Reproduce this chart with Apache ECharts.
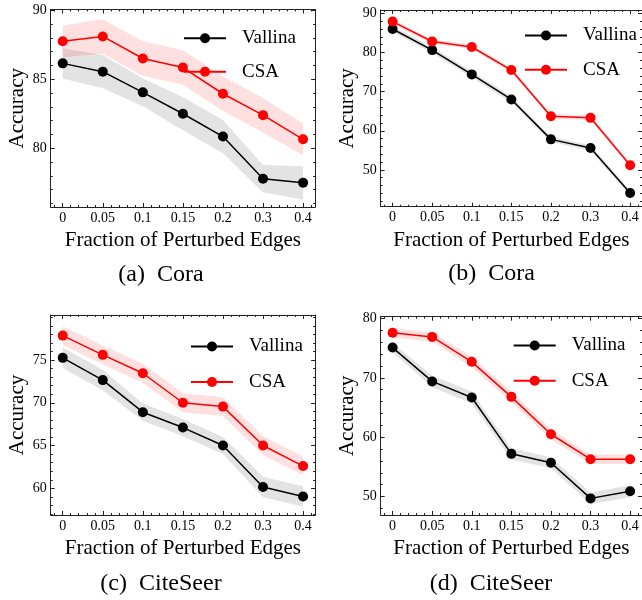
<!DOCTYPE html>
<html><head><meta charset="utf-8">
<script src="https://cdn.jsdelivr.net/npm/echarts@6/dist/echarts.min.js"></script>
<style>html,body{margin:0;padding:0;background:#fff}#c{width:642px;height:600px}</style>
</head><body><div id="c"></div>
<script>
// ---- data ----
const xLabels = ['0', '0.05', '0.1', '0.15', '0.2', '0.3', '0.4'];

const coraA_vallina     = [86.15, 85.55, 84.05, 82.5, 80.85, 77.8, 77.5];
const coraA_vallina_std = [1.1, 1.2, 1.0, 1.2, 1.2, 1.0, 1.2];
const coraA_csa         = [87.75, 88.1, 86.5, 85.85, 83.95, 82.4, 80.65];
const coraA_csa_std     = [1.15, 1.25, 1.25, 1.25, 1.25, 1.25, 1.15];

const coraB_vallina     = [86.0, 80.6, 74.4, 68.0, 57.8, 55.6, 44.1];
const coraB_vallina_std = [0.7, 0.8, 0.8, 0.8, 0.7, 0.7, 0.7];
const coraB_csa         = [87.9, 82.8, 81.4, 75.5, 63.7, 63.3, 51.2];
const coraB_csa_std     = [0.6, 0.6, 0.6, 0.6, 0.6, 0.6, 0.6];

const citeC_vallina     = [75.25, 72.65, 68.9, 67.1, 65.0, 60.15, 59.05];
const citeC_vallina_std = [1.2, 1.2, 1.0, 1.0, 1.0, 1.2, 1.2];
const citeC_csa         = [77.85, 75.6, 73.45, 70.0, 69.55, 65.0, 62.6];
const citeC_csa_std     = [1.1, 1.1, 1.1, 1.1, 1.1, 1.1, 1.1];

const citeD_vallina     = [75.1, 69.4, 66.7, 57.2, 55.7, 49.7, 50.9];
const citeD_vallina_std = [0.8, 1.0, 1.0, 1.0, 0.9, 1.0, 1.0];
const citeD_csa         = [77.6, 76.9, 72.7, 66.8, 60.5, 56.3, 56.3];
const citeD_csa_std     = [0.8, 0.8, 0.9, 0.9, 0.9, 0.8, 0.8];

const yTicksA = [80, 85, 90];
const yTicksB = [50, 60, 70, 80, 90];
const yTicksC = [60, 65, 70, 75];
const yTicksD = [50, 60, 70, 80];

// ---- layout ----
const FONT = 'Liberation Serif';
const AX = '#222';
const panels = [
  {grid:{left:50.7, top:9.5, width:264.4, height:197.5}, yMin:75.75, yMax:90.05, yMajor:yTicksA, yStep:1,
   v:coraA_vallina, vs:coraA_vallina_std, c:coraA_csa, cs:coraA_csa_std,
   leg:{left:183, top:28.75, gap:14.5}, cap:'(a)  Cora', capX:161, capY:275},
  {grid:{left:380.7, top:10, width:264.4, height:196.7}, yMin:40.6, yMax:90.85, yMajor:yTicksB, yStep:2,
   v:coraB_vallina, vs:coraB_vallina_std, c:coraB_csa, cs:coraB_csa_std,
   leg:{left:524, top:26, gap:15.2}, cap:'(b)  Cora', capX:491.5, capY:274},
  {grid:{left:50.7, top:315, width:264.4, height:200}, yMin:56.88, yMax:80.26, yMajor:yTicksC, yStep:1,
   v:citeC_vallina, vs:citeC_vallina_std, c:citeC_csa, cs:citeC_csa_std,
   leg:{left:190, top:337, gap:16.5}, cap:'(c)  CiteSeer', capX:161, capY:584},
  {grid:{left:380.7, top:316.7, width:264.4, height:198.3}, yMin:46.9, yMax:80.3, yMajor:yTicksD, yStep:2,
   v:citeD_vallina, vs:citeD_vallina_std, c:citeD_csa, cs:citeD_csa_std,
   leg:{left:512.7, top:336, gap:16.2}, cap:'(d)  CiteSeer', capX:491, capY:584}
];

const xMajor = xLabels.map((_, i) => i);
const xMinor = [];
for (let k = -1; k <= 6; k++) for (let j = 1; j <= 4; j++) {
  const v = +(k + j * 0.2).toFixed(2);
  if (v > -0.3 && v < 6.3) xMinor.push(v);
}

const option = {backgroundColor:'#fff', animation:false, grid:[], xAxis:[], yAxis:[], series:[], legend:[], graphic:[]};

function tick(vals, len) {
  return {show:true, inside:true, length:len, customValues:vals, lineStyle:{color:AX, width:1}};
}
const noLine = {show:false, onZero:false};
const frameLine = {show:true, onZero:false, lineStyle:{color:AX, width:1}};

panels.forEach((p, g) => {
  option.grid.push(Object.assign({containLabel:false}, p.grid));
  const xb = {gridIndex:g, type:'value', min:-0.3, max:6.3, splitLine:{show:false}};
  const xi = option.xAxis.length;
  option.xAxis.push(Object.assign({}, xb, {position:'bottom', axisLine:frameLine, axisTick:tick(xMajor, 4),
    axisLabel:{show:true, customValues:xMajor, formatter:v => xLabels[Math.round(v)], margin:4, color:'#000', fontFamily:FONT, fontSize:14},
    name:'Fraction of Perturbed Edges', nameLocation:'middle', nameGap:23,
    nameTextStyle:{color:'#000', fontFamily:FONT, fontSize:21}}));
  option.xAxis.push(Object.assign({}, xb, {position:'bottom', axisLine:noLine, axisTick:tick(xMinor, 2), axisLabel:{show:false}}));
  option.xAxis.push(Object.assign({}, xb, {position:'top', axisLine:frameLine, axisTick:tick(xMajor, 4), axisLabel:{show:false}}));
  option.xAxis.push(Object.assign({}, xb, {position:'top', axisLine:noLine, axisTick:tick(xMinor, 2), axisLabel:{show:false}}));

  const yMinor = [];
  for (let v = Math.ceil(p.yMin); v <= p.yMax; v++) {
    if ((v % p.yStep) === 0 && p.yMajor.indexOf(v) < 0) yMinor.push(v);
  }
  const yb = {gridIndex:g, type:'value', min:p.yMin, max:p.yMax, splitLine:{show:false}};
  const yi = option.yAxis.length;
  option.yAxis.push(Object.assign({}, yb, {position:'left', axisLine:frameLine, axisTick:tick(p.yMajor, 4),
    axisLabel:{show:true, customValues:p.yMajor, margin:4, color:'#000', fontFamily:FONT, fontSize:14},
    name:'Accuracy', nameLocation:'middle', nameGap:23,
    nameTextStyle:{color:'#000', fontFamily:FONT, fontSize:21}}));
  option.yAxis.push(Object.assign({}, yb, {position:'left', axisLine:noLine, axisTick:tick(yMinor, 2), axisLabel:{show:false}}));
  option.yAxis.push(Object.assign({}, yb, {position:'right', axisLine:frameLine, axisTick:tick(p.yMajor, 4), axisLabel:{show:false}}));
  option.yAxis.push(Object.assign({}, yb, {position:'right', axisLine:noLine, axisTick:tick(yMinor, 2), axisLabel:{show:false}}));

  // shaded band (mean ± std) drawn as one polygon through the axis scales
  const band = (mean, std, color) => option.series.push({
    type:'custom', xAxisIndex:xi, yAxisIndex:yi, silent:true, z:1, clip:true,
    data:mean.map((m, i) => [i, m - std[i], m + std[i]]),
    encode:{x:0, y:[1, 2]},
    renderItem:(params, api) => {
      if (params.dataIndex !== 0) return null;
      const up = mean.map((m, i) => api.coord([i, m + std[i]]));
      const lo = mean.map((m, i) => api.coord([i, m - std[i]])).reverse();
      return {type:'polygon', shape:{points:up.concat(lo)}, style:{fill:color, stroke:null}};
    }
  });
  band(p.v, p.vs, 'rgba(0,0,0,0.11)');
  band(p.c, p.cs, 'rgba(255,0,0,0.12)');

  const line = (name, vals, color, z) => option.series.push({
    type:'line', name:name, xAxisIndex:xi, yAxisIndex:yi, data:vals.map((v, i) => [i, v]),
    symbol:'circle', symbolSize:10, showSymbol:true, lineStyle:{color:color, width:1.5},
    itemStyle:{color:color}, z:z, emphasis:{disabled:true}});
  line('Vallina', p.v, '#000', 3);
  line('CSA', p.c, '#ff0000', 4);

  option.legend.push({data:['Vallina', 'CSA'], orient:'vertical', left:p.leg.left, top:p.leg.top,
    padding:0, itemWidth:42, itemHeight:12.5, itemGap:p.leg.gap, selectedMode:false,
    textStyle:{color:'#000', fontFamily:FONT, fontSize:19, padding:[0, 0, 0, 11]}});

  option.graphic.push({type:'text', x:p.capX, y:p.capY, silent:true,
    style:{text:p.cap, font:'24px "Liberation Serif"', fill:'#000', align:'center', verticalAlign:'middle'}});
});

const chart = echarts.init(document.getElementById('c'), null, {renderer:'canvas'});
chart.setOption(option);
</script>
</body></html>
